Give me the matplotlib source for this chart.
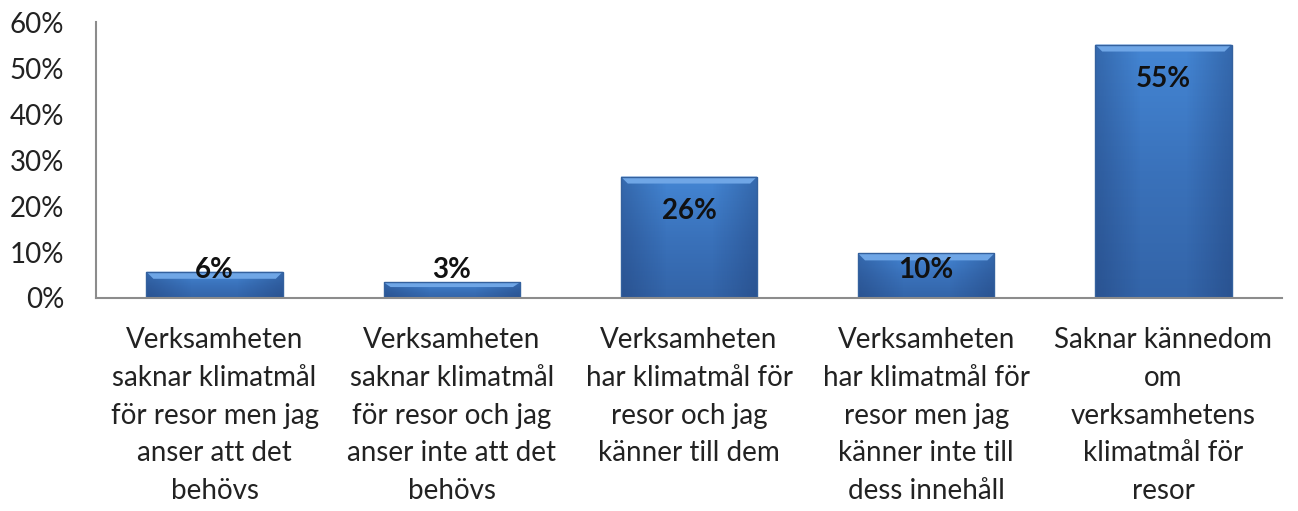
import numpy as np
import matplotlib
matplotlib.use("Agg")
import matplotlib.pyplot as plt
from matplotlib.colors import LinearSegmentedColormap
from matplotlib.patches import Rectangle, Polygon

# data
categories = [
    "Verksamheten\nsaknar klimatmål\nför resor men jag\nanser att det\nbehövs",
    "Verksamheten\nsaknar klimatmål\nför resor och jag\nanser inte att det\nbehövs",
    "Verksamheten\nhar klimatmål för\nresor och jag\nkänner till dem",
    "Verksamheten\nhar klimatmål för\nresor men jag\nkänner inte till\ndess innehåll",
    "Saknar kännedom\nom\nverksamhetens\nklimatmål för\nresor",
]
values = [5.7, 3.4, 26.4, 9.7, 55.1]
labels = ["6%", "3%", "26%", "10%", "55%"]
yticks = [0, 10, 20, 30, 40, 50, 60]

plt.rcParams['font.family'] = ['Lato', 'DejaVu Sans']

fig = plt.figure(figsize=(12.98, 5.11), dpi=100)
ax = fig.add_axes([96/1298, 1-298/511, (1282-96)/1298, (298-22)/511])

x = np.arange(len(values))
w = 0.575
bars = ax.bar(x, values, width=w, color="#3f7bc8", edgecolor="none", linewidth=0, zorder=2)

# gradient fill like excel bevel
vcm = LinearSegmentedColormap.from_list("v", ["#4486d4", "#3a72bb", "#3364a8"])
grad = np.linspace(0, 1, 256).reshape(1, -1)
vgrad = np.linspace(0, 1, 128).reshape(-1, 1)
ppx = 60 / 276.0  # data units per pixel (y)
pxx = 1.0 / 237.2  # data units per pixel (x)
for b, v in zip(bars, values):
    x0 = b.get_x()
    im = ax.imshow(vgrad, cmap=vcm, aspect="auto",
                   extent=[x0, x0 + w, 0, v], zorder=2.1)
    im.set_clip_path(b)
    im2 = ax.imshow(np.tile(grad, (2, 1)), cmap=LinearSegmentedColormap.from_list(
        "hh", [(0.1, 0.2, 0.4, 0.35), (0.1, 0.2, 0.4, 0.0), (0.1, 0.2, 0.4, 0.0), (0.1, 0.2, 0.4, 0.35)]),
        aspect="auto", extent=[x0, x0 + w, 0, v], zorder=2.2)
    im2.set_clip_path(b)
    bh = min(7 * ppx, v * 0.3)
    bw = 7 * pxx
    ax.add_patch(Polygon([(x0, v), (x0 + w, v), (x0 + w - bw, v - bh), (x0 + bw, v - bh)],
                         closed=True, facecolor="#6fa6e6", edgecolor="none", zorder=2.3))
    ax.add_patch(Rectangle((x0, 0), w, v, facecolor="none",
                           edgecolor="#34619e", linewidth=1.0, zorder=2.4))

for xi, v, t in zip(x, values, labels):
    ax.text(xi, max(v - 7.4, 6.1), t, ha="center", va="center",
            fontsize=20, fontweight="bold", color="#111111", zorder=3)

ax.set_xlim(-0.5, len(values) - 0.5)
ax.set_ylim(0, 60)
ax.set_yticks(yticks)
ax.set_yticklabels([f"{t}%" for t in yticks], fontsize=20, color="#222222")
ax.set_xticks(x)
ax.set_xticklabels(categories, fontsize=20, color="#222222", linespacing=1.56, va="top")
ax.tick_params(axis="both", length=0)
ax.tick_params(axis="y", pad=23)
ax.tick_params(axis="x", pad=21)
for s in ["top", "right"]:
    ax.spines[s].set_visible(False)
for s in ["left", "bottom"]:
    ax.spines[s].set_color("#8c8c8c")
    ax.spines[s].set_linewidth(1.5)

fig.savefig("out.png", dpi=100)
